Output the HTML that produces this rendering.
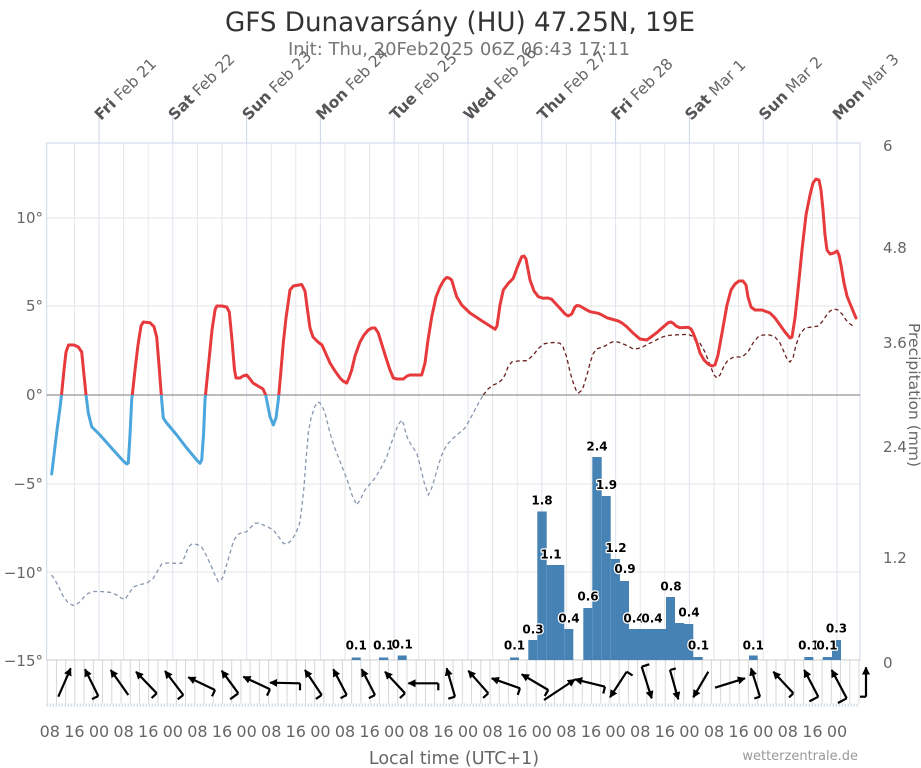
<!DOCTYPE html>
<html><head><meta charset="utf-8"><style>
html,body{margin:0;padding:0;background:#fff;}
svg{display:block;}
</style></head><body>
<svg width="921" height="768" xmlns="http://www.w3.org/2000/svg" font-family="'DejaVu Sans', 'Liberation Sans', sans-serif">
<defs>
<clipPath id="ab"><rect x="0" y="0" width="921" height="395"/></clipPath>
<clipPath id="bl"><rect x="0" y="395" width="921" height="373"/></clipPath>
<pattern id="vg" x="46.7" y="0" width="9.225" height="768" patternUnits="userSpaceOnUse"><line x1="0.5" y1="0" x2="0.5" y2="768" stroke="#d6d6d6" stroke-width="1"/></pattern>
<marker id="ah" viewBox="0 0 10 10" refX="9" refY="5" markerWidth="8" markerHeight="8" markerUnits="userSpaceOnUse" orient="auto"><path d="M0,0 L10,5 L0,10 z" fill="#000"/></marker>
</defs>
<rect width="921" height="768" fill="#fff"/>

<!-- title -->
<text x="460" y="31" text-anchor="middle" font-size="27" fill="#333" textLength="470" lengthAdjust="spacingAndGlyphs">GFS Dunavarsány (HU) 47.25N, 19E</text>
<text x="459" y="55" text-anchor="middle" font-size="18" fill="#777" textLength="342" lengthAdjust="spacingAndGlyphs">Init: Thu, 20Feb2025 06Z 06:43 17:11</text>

<!-- horizontal grid -->
<g stroke="#e6e6e6" stroke-width="1">
<line x1="46.7" y1="218" x2="860" y2="218"/>
<line x1="46.7" y1="306" x2="860" y2="306"/>
<line x1="46.7" y1="484" x2="860" y2="484"/>
<line x1="46.7" y1="572" x2="860" y2="572"/>
</g>
<!-- vertical grid -->
<g stroke="#e6e6e6" stroke-width="1">
<line x1="74.4" y1="143" x2="74.4" y2="660"/><line x1="123.6" y1="143" x2="123.6" y2="660"/><line x1="148.2" y1="143" x2="148.2" y2="660"/>
<line x1="197.4" y1="143" x2="197.4" y2="660"/><line x1="222" y1="143" x2="222" y2="660"/><line x1="271.2" y1="143" x2="271.2" y2="660"/>
<line x1="295.8" y1="143" x2="295.8" y2="660"/><line x1="345" y1="143" x2="345" y2="660"/><line x1="369.6" y1="143" x2="369.6" y2="660"/>
<line x1="418.8" y1="143" x2="418.8" y2="660"/><line x1="443.4" y1="143" x2="443.4" y2="660"/><line x1="492.6" y1="143" x2="492.6" y2="660"/>
<line x1="517.2" y1="143" x2="517.2" y2="660"/><line x1="566.4" y1="143" x2="566.4" y2="660"/><line x1="591" y1="143" x2="591" y2="660"/>
<line x1="640.2" y1="143" x2="640.2" y2="660"/><line x1="664.8" y1="143" x2="664.8" y2="660"/><line x1="714" y1="143" x2="714" y2="660"/>
<line x1="738.6" y1="143" x2="738.6" y2="660"/><line x1="787.8" y1="143" x2="787.8" y2="660"/><line x1="812.4" y1="143" x2="812.4" y2="660"/>
</g>
<g stroke="#dde3ee" stroke-width="1">
<line x1="99" y1="143" x2="99" y2="660"/><line x1="172.8" y1="143" x2="172.8" y2="660"/><line x1="246.6" y1="143" x2="246.6" y2="660"/>
<line x1="320.4" y1="143" x2="320.4" y2="660"/><line x1="394.2" y1="143" x2="394.2" y2="660"/><line x1="468" y1="143" x2="468" y2="660"/>
<line x1="541.8" y1="143" x2="541.8" y2="660"/><line x1="615.6" y1="143" x2="615.6" y2="660"/><line x1="689.4" y1="143" x2="689.4" y2="660"/>
<line x1="763.2" y1="143" x2="763.2" y2="660"/><line x1="837" y1="143" x2="837" y2="660"/>
</g>
<!-- day ticks above -->
<g stroke="#ccd6eb" stroke-width="1">
<line x1="99" y1="113" x2="99" y2="143"/><line x1="172.8" y1="113" x2="172.8" y2="143"/><line x1="246.6" y1="113" x2="246.6" y2="143"/>
<line x1="320.4" y1="113" x2="320.4" y2="143"/><line x1="394.2" y1="113" x2="394.2" y2="143"/><line x1="468" y1="113" x2="468" y2="143"/>
<line x1="541.8" y1="113" x2="541.8" y2="143"/><line x1="615.6" y1="113" x2="615.6" y2="143"/><line x1="689.4" y1="113" x2="689.4" y2="143"/>
<line x1="763.2" y1="113" x2="763.2" y2="143"/><line x1="837" y1="113" x2="837" y2="143"/>
</g>
<!-- frame -->
<rect x="46.7" y="143" width="813.3" height="517" fill="none" stroke="#ccd6eb" stroke-width="1"/>
<line x1="46.7" y1="660" x2="860" y2="660" stroke="#cccccc" stroke-width="1"/>
<line x1="46.7" y1="395" x2="860" y2="395" stroke="#a6a6a6" stroke-width="1.5"/>

<!-- day labels -->
<g font-size="15.5" fill="#666">
<text transform="translate(101,121) rotate(-45)"><tspan font-weight="bold" fill="#555">Fri</tspan> Feb 21</text>
<text transform="translate(174.8,121) rotate(-45)"><tspan font-weight="bold" fill="#555">Sat</tspan> Feb 22</text>
<text transform="translate(248.6,121) rotate(-45)"><tspan font-weight="bold" fill="#555">Sun</tspan> Feb 23</text>
<text transform="translate(322.4,121) rotate(-45)"><tspan font-weight="bold" fill="#555">Mon</tspan> Feb 24</text>
<text transform="translate(396.2,121) rotate(-45)"><tspan font-weight="bold" fill="#555">Tue</tspan> Feb 25</text>
<text transform="translate(470,121) rotate(-45)"><tspan font-weight="bold" fill="#555">Wed</tspan> Feb 26</text>
<text transform="translate(543.8,121) rotate(-45)"><tspan font-weight="bold" fill="#555">Thu</tspan> Feb 27</text>
<text transform="translate(617.6,121) rotate(-45)"><tspan font-weight="bold" fill="#555">Fri</tspan> Feb 28</text>
<text transform="translate(691.4,121) rotate(-45)"><tspan font-weight="bold" fill="#555">Sat</tspan> Mar 1</text>
<text transform="translate(765.2,121) rotate(-45)"><tspan font-weight="bold" fill="#555">Sun</tspan> Mar 2</text>
<text transform="translate(839,121) rotate(-45)"><tspan font-weight="bold" fill="#555">Mon</tspan> Mar 3</text>
</g>

<!-- left axis labels -->
<g font-size="15" fill="#666" text-anchor="end">
<text x="43" y="223">10°</text>
<text x="43" y="311">5°</text>
<text x="43" y="400">0°</text>
<text x="43" y="489">−5°</text>
<text x="43" y="578">−10°</text>
<text x="43" y="666">−15°</text>
</g>
<!-- right axis labels -->
<g font-size="15" fill="#666">
<text x="883" y="151">6</text>
<text x="883" y="253">4.8</text>
<text x="883" y="348">3.6</text>
<text x="883" y="452">2.4</text>
<text x="883" y="563">1.2</text>
<text x="883" y="668">0</text>
</g>
<text transform="translate(909,395) rotate(90)" text-anchor="middle" font-size="15.5" fill="#666">Precipitation (mm)</text>

<!-- precipitation bars -->
<g fill="#4682b4">
<rect x="351.7" y="657.5" width="9" height="2.5"/>
<rect x="379" y="657.5" width="9.3" height="2.5"/>
<rect x="397.7" y="655.5" width="9" height="4.5"/>
<rect x="510" y="657.5" width="9" height="2.5"/>
<rect x="528.3" y="640" width="9" height="20"/>
<rect x="537.3" y="511.5" width="9.4" height="148.5"/>
<rect x="546.7" y="565" width="17.6" height="95"/>
<rect x="564.3" y="629" width="9" height="31"/>
<rect x="583.3" y="608" width="9" height="52"/>
<rect x="592.3" y="457" width="9.4" height="203"/>
<rect x="601.7" y="496" width="9" height="164"/>
<rect x="610.7" y="559" width="9.3" height="101"/>
<rect x="620" y="581" width="9" height="79"/>
<rect x="629" y="629" width="37" height="31"/>
<rect x="666" y="597" width="9" height="63"/>
<rect x="675" y="623" width="9" height="37"/>
<rect x="684" y="624" width="9.3" height="36"/>
<rect x="693.3" y="657" width="9.4" height="3"/>
<rect x="749" y="655.5" width="8.7" height="4.5"/>
<rect x="804.3" y="657" width="9" height="3"/>
<rect x="822.7" y="657" width="9.3" height="3"/>
<rect x="832" y="640" width="9" height="20"/>
</g>

<!-- dewpoint -->
<g fill="none" stroke-width="1.3" stroke-dasharray="4,3">
<polyline id="dp" clip-path="url(#bl)" stroke="#8898ae" points="51.7,575 55,580 58.3,586 63,596 68.3,603 73.3,605.5 77,604 80,601.7 84,597 88.3,593.3 94,591.5 100,591.5 110,592.3 116.7,595 121,598 125,599.5 128,595 133.3,587 140,584.5 146.7,583.3 153.3,578.3 157,572 161.7,564 166,563 173.3,563.3 181.7,563.3 185,556 188.3,547 192,544 195,544 198,545 201.7,547 206,555 210,563.3 215,575 218.3,581.7 221,580 223.3,576.7 228,560 233.3,541.7 237,535 240,533.3 246.7,531.7 251,527 255,523.3 259,523 263.3,525 268,527 273.3,530 278,536 283.3,543.3 287,544 291.7,540 296,533 300,522 302,505 304,487 306,460 308.3,433 311,418 315,406 318,402 320,403 323,408 325,413 330,433 334,446 338.3,457 343,469 348.3,483 352,495 356.7,505 360,500 365,490 370,484 375,478 380,470 386.7,457 391,444 395,433 398,425 401.7,420 404,425 406,434 408.3,440 412,446 416.7,453 420,465 424,482 428.3,495 431,490 433.3,483 437,470 441.7,455 446.7,445 453.3,438 458,434 465,428 469,421 473.3,413 478,404 483.3,395 488,389 493.3,385 498,383 501.7,380 505,375 508,367 511.7,362 518,361 526.7,360.7 530,358 533.3,355 538,349 543.3,344 550,342.7 556,342.5 560,343.3 563,347 566.7,357 570,372 573.3,383 576,390 578.3,393 581,391 583.3,387 587,375 590,363 593,354 596.7,349 605,346 610,343 613.3,341.7 618,342 623.3,344 628,346 633.3,349 638,348.5 643.3,346.7 648,344 653.3,341.7 658,339 663.3,336.7 668,335.5 673.3,335 680,334.7 688.3,334.3 692,336 695,340 700,343.3 705,352 710,365 714,375 717,378 720,375 724,366 728,360 734,357 742,357 748,352 753,343 758,337 763,335 770,335 775,337 780,343 784,352 787,359 790,362 793,358 796,345 800,334 805,328 812,327 818,326 822,322 826,316 830,311 834,309 838,310 842,314 846,320 850,324 855,327"/>
</g>
<polyline clip-path="url(#ab)" fill="none" stroke="#6a2020" stroke-width="1.3" stroke-dasharray="4,3" points="483.3,395 488,389 493.3,385 498,383 501.7,380 505,375 508,367 511.7,362 518,361 526.7,360.7 530,358 533.3,355 538,349 543.3,344 550,342.7 556,342.5 560,343.3 563,347 566.7,357 570,372 573.3,383 576,390 578.3,393 581,391 583.3,387 587,375 590,363 593,354 596.7,349 605,346 610,343 613.3,341.7 618,342 623.3,344 628,346 633.3,349 638,348.5 643.3,346.7 648,344 653.3,341.7 658,339 663.3,336.7 668,335.5 673.3,335 680,334.7 688.3,334.3 692,336 695,340 700,343.3 705,352 710,365 714,375 717,378 720,375 724,366 728,360 734,357 742,357 748,352 753,343 758,337 763,335 770,335 775,337 780,343 784,352 787,359 790,362 793,358 796,345 800,334 805,328 812,327 818,326 822,322 826,316 830,311 834,309 838,310 842,314 846,320 850,324 855,327"/>

<!-- temperature -->
<g fill="none" stroke-width="3" stroke-linejoin="round" stroke-linecap="round">
<polyline id="tp" clip-path="url(#ab)" stroke="#e63a3c" points="51.7,474 54,455 57,430 60,408 61.5,395 64,370 66,352 68.5,345 74,345 78.3,347 81.7,352 83.5,370 86,395 86.7,400 88.3,413 91.7,426.7 95,430 100,435 113.3,450 123.3,461 126.7,464 128.3,463 130,435 131.7,400 132.3,395 135,370 138,345 141,326 143.3,322 150,322.7 154,326.7 156.7,337 159,365 161.3,395 161.7,400 163.3,418 166.7,423 176.7,435 186.7,448 196.7,460 200,463.3 201.7,460 203.5,435 205,400 205.5,395 209,360 212,330 215,310 216.7,306 222,306 226.7,307 229.3,312 232,340 234.5,370 236,378 240,378 243,376 246.7,375 250,379 253,383 258,386 263,389 265.7,395 266.7,400 270,416.7 273.3,425 276,418 278.3,400 278.8,395 281,370 283.3,343 286,318 290,290 293.3,286 301.7,284.5 305,291 307.5,310 310,328 313,337 318,342 322,345 326,354 330,363 335,371 340,378 343,381 346.7,383 349,378 351.7,370 355,356 360,342 364,335 368.3,330 372,328 375,328 378.3,333 382,345 386.7,360 390,370 393.3,378 397,379 403.3,379 407,376 410,375 415,375 421.7,375 425,363 428,340 431.7,317 436,297 440,287 444,280 446.7,277.5 449,278 451.7,280 454,288 456.7,296.7 461.7,305 470,313 483.3,321.7 490,326 495,329.3 497,326 500,305 503.3,290 508.3,283.3 513.3,278.3 517,268 521.7,256.7 524,256 526,259 530,280 534,291 538.3,296.7 543.3,298.3 548,298 551.7,299.3 556,304 560,308.3 565,314 568.3,316 571.7,314 575,307 577,305.5 580,306 585,309 590,311.7 598.3,313.3 602,315 606.7,317.7 618.3,321 622,323 626.7,326.7 633,333 640,339 646.7,340 651,337 656.7,332.7 662,328 668.3,322.7 671,322 673.3,323.3 676,326 680,327.7 688.3,327.3 691,329 693.3,333.3 697,343 700,353 704,360 708,364 712,366 715,365 718,355 722,333 727,305 731,290 735,284 739,281 743,281 746,285 748,297 751,307 755,310 762,310 770,313 775,318 780,325 785,332 790,338 792,337 795,318 798,290 802,250 806,215 810,195 813,183 816,179 819,180 821,190 823,210 825,235 827,250 830,254 834,253 837,251 839,255 841,265 844,283 847,296 851,306 856,318"/>
</g>
<polyline clip-path="url(#bl)" fill="none" stroke="#4aa6dd" stroke-width="3" stroke-linejoin="round" stroke-linecap="round" points="51.7,474 54,455 57,430 60,408 61.5,395 64,370 66,352 68.5,345 74,345 78.3,347 81.7,352 83.5,370 86,395 86.7,400 88.3,413 91.7,426.7 95,430 100,435 113.3,450 123.3,461 126.7,464 128.3,463 130,435 131.7,400 132.3,395 135,370 138,345 141,326 143.3,322 150,322.7 154,326.7 156.7,337 159,365 161.3,395 161.7,400 163.3,418 166.7,423 176.7,435 186.7,448 196.7,460 200,463.3 201.7,460 203.5,435 205,400 205.5,395 209,360 212,330 215,310 216.7,306 222,306 226.7,307 229.3,312 232,340 234.5,370 236,378 240,378 243,376 246.7,375 250,379 253,383 258,386 263,389 265.7,395 266.7,400 270,416.7 273.3,425 276,418 278.3,400 278.8,395 281,370"/>

<!-- precipitation labels -->
<g font-size="12" font-weight="bold" fill="#000" text-anchor="middle" stroke="#fff" stroke-width="2.5" paint-order="stroke" stroke-linejoin="round">
<text x="356.2" y="649.5">0.1</text>
<text x="383.7" y="649.5">0.1</text>
<text x="402.2" y="648.5">0.1</text>
<text x="514.5" y="649.5">0.1</text>
<text x="533" y="633.5">0.3</text>
<text x="542" y="504.5">1.8</text>
<text x="551" y="558.5">1.1</text>
<text x="569" y="622.5">0.4</text>
<text x="588" y="600.5">0.6</text>
<text x="597" y="450.5">2.4</text>
<text x="606.5" y="489">1.9</text>
<text x="616" y="552">1.2</text>
<text x="625" y="573">0.9</text>
<text x="634" y="622.5">0.4</text>
<text x="652" y="622.5">0.4</text>
<text x="671" y="590.5">0.8</text>
<text x="689" y="616.5">0.4</text>
<text x="698.5" y="649.5">0.1</text>
<text x="753.3" y="649.5">0.1</text>
<text x="808.8" y="649.5">0.1</text>
<text x="827" y="649.5">0.1</text>
<text x="836.5" y="632.5">0.3</text>
</g>

<!-- wind area -->
<rect x="46.7" y="660.5" width="813" height="43" fill="url(#vg)"/>
<line x1="46.7" y1="705" x2="858" y2="705" stroke="#bfcde0" stroke-width="3" stroke-dasharray="1,2"/>
<g stroke="#000" stroke-width="2.2" stroke-linecap="butt">
<line x1="58.3" y1="696.7" x2="70.7" y2="668.3" marker-end="url(#ah)"/>
<line x1="98.3" y1="696" x2="85" y2="669.3" marker-end="url(#ah)"/><line x1="98.3" y1="696" x2="92" y2="699.1"/>
<line x1="128.3" y1="695" x2="110.7" y2="670" marker-end="url(#ah)"/>
<line x1="156.7" y1="693.3" x2="136" y2="671.7" marker-end="url(#ah)"/><line x1="156.7" y1="693.3" x2="151.6" y2="698.1"/>
<line x1="183.3" y1="695" x2="165" y2="671" marker-end="url(#ah)"/><line x1="183.3" y1="695" x2="177.7" y2="699.2"/>
<line x1="215" y1="690" x2="188.3" y2="677.3" marker-end="url(#ah)"/><line x1="215" y1="690" x2="212" y2="696.3"/>
<line x1="238.3" y1="693.3" x2="221.7" y2="670.7" marker-end="url(#ah)"/><line x1="238.3" y1="693.3" x2="230.2" y2="699.2"/>
<line x1="270" y1="689.3" x2="243.3" y2="676.7" marker-end="url(#ah)"/><line x1="270" y1="689.3" x2="267" y2="695.6"/>
<line x1="300" y1="683.3" x2="270" y2="682.7" marker-end="url(#ah)"/><line x1="300" y1="683.3" x2="300" y2="690.3"/>
<line x1="321.7" y1="695" x2="305" y2="670" marker-end="url(#ah)"/><line x1="321.7" y1="695" x2="315.9" y2="698.9"/>
<line x1="346.7" y1="695" x2="333.3" y2="669.3" marker-end="url(#ah)"/><line x1="346.7" y1="695" x2="340.5" y2="698.2"/>
<line x1="375" y1="695" x2="361.7" y2="669.3" marker-end="url(#ah)"/><line x1="375" y1="695" x2="368.8" y2="698.2"/>
<line x1="405" y1="693.3" x2="385" y2="671.7" marker-end="url(#ah)"/><line x1="405" y1="693.3" x2="399.9" y2="698.1"/>
<line x1="438.3" y1="683.3" x2="408.3" y2="683.3" marker-end="url(#ah)"/><line x1="438.3" y1="683.3" x2="438.3" y2="690.3"/>
<line x1="455" y1="696.7" x2="446.7" y2="668.3" marker-end="url(#ah)"/><line x1="455" y1="696.7" x2="448.3" y2="698.7"/>
<line x1="488.3" y1="693.3" x2="468.3" y2="670.7" marker-end="url(#ah)"/><line x1="488.3" y1="693.3" x2="483.1" y2="697.9"/>
<line x1="520" y1="688.3" x2="491.7" y2="678.3" marker-end="url(#ah)"/><line x1="520" y1="688.3" x2="517.7" y2="694.9"/>
<line x1="548.3" y1="690" x2="521.7" y2="674.3" marker-end="url(#ah)"/><line x1="548.3" y1="690" x2="544.7" y2="696"/>
<line x1="544" y1="700" x2="575" y2="679.5" marker-end="url(#ah)"/>
<line x1="605" y1="686.7" x2="575" y2="679.3" marker-end="url(#ah)"/><line x1="605" y1="686.7" x2="603.3" y2="693.5"/>
<line x1="626.7" y1="671.7" x2="610" y2="697.3" marker-end="url(#ah)"/><line x1="626.7" y1="671.7" x2="632.6" y2="675.5"/>
<line x1="641.7" y1="666.7" x2="651.7" y2="698.3" marker-end="url(#ah)"/><line x1="641.7" y1="666.7" x2="649.3" y2="664.3"/>
<line x1="670" y1="670" x2="678.3" y2="699.3" marker-end="url(#ah)"/><line x1="670" y1="670" x2="675.8" y2="668.4"/>
<line x1="708.3" y1="671.7" x2="693.3" y2="697.3" marker-end="url(#ah)"/>
<line x1="715" y1="687.7" x2="745" y2="678.3" marker-end="url(#ah)"/>
<line x1="760" y1="696.7" x2="751" y2="668.3" marker-end="url(#ah)"/><line x1="760" y1="696.7" x2="754.3" y2="698.5"/>
<line x1="793.3" y1="693.3" x2="773.3" y2="671.7" marker-end="url(#ah)"/><line x1="793.3" y1="693.3" x2="789" y2="697.4"/>
<line x1="818.3" y1="696.7" x2="804.3" y2="670" marker-end="url(#ah)"/><line x1="818.3" y1="696.7" x2="809.4" y2="701.4"/>
<line x1="846.7" y1="698.3" x2="831.7" y2="670" marker-end="url(#ah)"/><line x1="846.7" y1="698.3" x2="837.9" y2="703"/>
<line x1="866" y1="696.7" x2="866" y2="667.3" marker-end="url(#ah)"/><line x1="866" y1="696.7" x2="860" y2="696.7"/>
</g>

<!-- bottom hour labels -->
<g font-size="16" fill="#666" text-anchor="middle">
<text x="49.8" y="737">08</text><text x="74.4" y="737">16</text><text x="99" y="737">00</text>
<text x="123.6" y="737">08</text><text x="148.2" y="737">16</text><text x="172.8" y="737">00</text>
<text x="197.4" y="737">08</text><text x="222" y="737">16</text><text x="246.6" y="737">00</text>
<text x="271.2" y="737">08</text><text x="295.8" y="737">16</text><text x="320.4" y="737">00</text>
<text x="345" y="737">08</text><text x="369.6" y="737">16</text><text x="394.2" y="737">00</text>
<text x="418.8" y="737">08</text><text x="443.4" y="737">16</text><text x="468" y="737">00</text>
<text x="492.6" y="737">08</text><text x="517.2" y="737">16</text><text x="541.8" y="737">00</text>
<text x="566.4" y="737">08</text><text x="591" y="737">16</text><text x="615.6" y="737">00</text>
<text x="640.2" y="737">08</text><text x="664.8" y="737">16</text><text x="689.4" y="737">00</text>
<text x="714" y="737">08</text><text x="738.6" y="737">16</text><text x="763.2" y="737">00</text>
<text x="787.8" y="737">08</text><text x="812.4" y="737">16</text><text x="837" y="737">00</text>
</g>
<text x="454" y="764" text-anchor="middle" font-size="17.5" fill="#666">Local time (UTC+1)</text>
<text x="858" y="760" text-anchor="end" font-size="13" fill="#999">wetterzentrale.de</text>
</svg>
</body></html>
